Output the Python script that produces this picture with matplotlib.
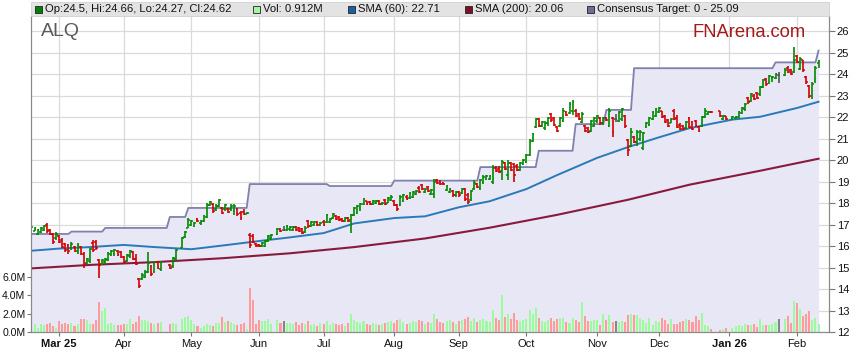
import matplotlib

matplotlib.use("Agg")
import matplotlib.pyplot as plt
import numpy as np
import pandas as pd
from matplotlib.patches import Rectangle

plt.rcParams["font.family"] = ["Liberation Sans", "DejaVu Sans"]

START = "2025-02-18"
END = "2026-02-11"
HOLIDAYS = ["2025-04-18", "2025-04-21", "2025-04-25", "2025-06-09",
            "2025-12-25", "2025-12-26", "2026-01-01", "2026-01-26"]

# daily OHLC, trading days only (one row per month)
opens = [
    16.65, 16.72, 16.55, 16.65, 16.75, 17.00, 16.75, 16.55, 16.35,
    16.45, 16.30, 16.10, 16.05, 15.85, 15.95, 15.75, 15.95, 15.65, 15.20, 15.30, 16.15, 16.20, 15.35, 15.15, 15.25, 15.35, 15.60, 15.65, 15.78, 15.70,
    15.50, 15.30, 15.55, 15.70, 15.40, 14.45, 14.45, 14.55, 14.80, 15.05, 14.80, 15.25, 14.95, 15.10, 15.05, 15.40, 15.90, 16.40, 16.85,
    17.00, 16.95, 17.25, 17.05, 17.15, 17.35, 17.90, 17.95, 17.70, 17.85, 17.75, 17.70, 17.70, 17.70, 17.65, 17.70, 17.55, 17.60, 17.50, 16.50, 16.45, 16.10,
    16.05, 16.00, 16.00, 16.25, 16.35, 16.55, 16.80, 16.75, 16.75, 16.80, 16.75, 16.90, 16.85, 16.80, 16.65, 17.15, 16.95, 17.00, 17.10, 17.00,
    17.10, 17.10, 17.10, 17.30, 17.40, 17.35, 17.25, 17.15, 17.30, 17.20, 17.45, 17.55, 17.75, 17.95, 18.10, 18.05, 17.95, 18.00, 18.10, 17.95, 18.15, 18.00, 18.15,
    18.10, 17.90, 17.90, 18.10, 18.30, 18.25, 18.30, 18.40, 18.70, 18.85, 18.50, 18.75, 18.40, 18.40, 19.05, 19.00, 18.95, 18.60, 18.50, 18.55, 18.35,
    18.50, 18.45, 18.65, 18.35, 18.15, 18.65, 18.90, 18.70, 19.00, 19.10, 19.10, 19.00, 19.65, 19.60, 19.50, 19.85, 19.30, 19.85, 19.80, 19.70, 19.55, 19.80,
    19.90, 20.25, 20.90, 21.55, 21.90, 21.60, 21.50, 21.70, 22.15, 21.95, 21.55, 21.60, 21.80, 22.25, 22.20, 22.30, 22.30, 22.15, 21.75, 21.60, 21.50, 21.35, 21.60,
    21.80, 21.95, 21.70, 21.95, 21.60, 21.95, 21.90, 21.80, 21.90, 22.05, 20.95, 20.65, 21.05, 20.85, 21.00, 20.55, 21.55, 21.65, 21.90, 22.05,
    22.25, 22.30, 22.05, 21.85, 21.70, 22.30, 21.95, 21.65, 21.60, 21.50, 21.95, 21.75, 21.80, 21.55, 21.60, 22.00, 22.15, 22.25, 22.30, 21.90, 22.05,
    21.90, 21.95, 22.00, 22.20, 22.35, 22.90, 22.75, 23.00, 23.10, 23.05, 23.40, 23.75, 23.60, 23.80, 23.80, 23.95, 23.95, 24.30, 24.20, 24.10,
    24.85, 24.25, 24.65, 23.85, 23.45, 23.00, 23.70, 24.50,
]
highs = [
    16.95, 16.90, 16.80, 16.90, 17.00, 17.05, 16.80, 16.60, 16.65,
    16.50, 16.35, 16.15, 16.10, 16.20, 16.00, 16.15, 16.00, 15.70, 15.45, 15.90, 16.30, 16.30, 15.40, 15.40, 15.45, 15.70, 15.80, 15.85, 15.80, 15.75,
    15.55, 15.65, 15.80, 15.75, 15.65, 14.50, 14.75, 14.90, 15.70, 15.10, 15.30, 15.30, 15.30, 15.15, 15.50, 15.85, 16.40, 16.70, 17.30,
    17.20, 17.10, 17.30, 17.20, 17.45, 18.00, 18.10, 18.00, 17.95, 18.20, 17.80, 17.95, 17.75, 17.95, 17.95, 17.75, 17.65, 17.70, 17.60, 16.60, 16.55, 16.15,
    16.10, 16.20, 16.30, 16.50, 16.55, 16.85, 16.85, 16.95, 17.00, 16.95, 16.95, 16.95, 16.90, 16.85, 16.95, 17.20, 17.15, 17.15, 17.15, 17.10,
    17.20, 17.50, 17.30, 17.55, 17.45, 17.40, 17.30, 17.35, 17.35, 17.50, 17.80, 17.90, 18.00, 18.25, 18.10, 18.10, 18.15, 18.15, 18.15, 18.05, 18.20, 18.30, 18.35,
    18.15, 17.95, 18.35, 18.40, 18.35, 18.50, 18.55, 18.60, 18.80, 18.90, 18.70, 18.80, 18.65, 19.10, 19.10, 19.05, 19.00, 18.85, 18.70, 18.60, 18.55,
    18.55, 18.70, 18.70, 18.45, 18.60, 19.05, 18.95, 19.10, 19.30, 19.30, 19.30, 19.75, 19.70, 19.70, 19.98, 19.90, 19.98, 19.90, 19.85, 19.80, 19.90, 20.05,
    20.30, 21.00, 21.25, 21.95, 21.95, 21.80, 21.80, 22.00, 22.20, 22.00, 21.60, 22.00, 22.40, 22.30, 22.70, 22.80, 22.35, 22.20, 22.25, 21.65, 21.55, 21.85, 22.00,
    22.10, 22.00, 22.00, 22.00, 22.40, 22.00, 22.15, 22.30, 22.40, 22.10, 21.00, 21.50, 21.10, 21.40, 21.40, 21.30, 21.75, 22.00, 22.30, 22.40,
    22.45, 22.30, 22.10, 21.90, 21.95, 22.35, 22.10, 21.70, 21.65, 21.80, 22.00, 21.80, 21.85, 21.60, 22.05, 22.40, 22.30, 22.30, 22.30, 22.10, 22.05,
    22.05, 22.05, 22.30, 22.45, 22.65, 22.95, 23.10, 23.05, 23.15, 23.45, 23.75, 23.80, 23.95, 23.90, 24.05, 24.10, 24.30, 24.35, 24.25, 25.25,
    24.90, 24.80, 24.65, 23.90, 23.50, 23.65, 24.35, 24.66,
]
lows = [
    16.60, 16.68, 16.50, 16.60, 16.70, 16.60, 16.50, 16.10, 16.30,
    16.15, 15.90, 15.70, 15.65, 15.80, 15.70, 15.65, 15.60, 15.00, 15.15, 15.20, 15.70, 15.80, 14.50, 15.10, 15.15, 15.30, 15.55, 15.55, 15.55, 15.45,
    15.20, 15.25, 15.45, 15.35, 15.10, 14.05, 14.40, 14.50, 14.75, 14.60, 14.75, 14.95, 14.85, 14.95, 15.00, 15.30, 15.90, 16.35, 16.85,
    16.95, 16.90, 17.10, 17.00, 17.10, 17.30, 17.85, 17.55, 17.65, 17.80, 17.50, 17.65, 17.55, 17.65, 17.45, 17.40, 17.20, 17.45, 17.50, 15.90, 16.15, 15.95,
    15.95, 15.95, 15.95, 16.20, 16.30, 16.50, 16.65, 16.70, 16.70, 16.70, 16.70, 16.70, 16.65, 16.55, 16.60, 16.85, 16.90, 16.95, 16.95, 16.95,
    16.95, 17.05, 17.05, 17.25, 17.20, 17.15, 17.10, 17.10, 17.10, 16.60, 17.40, 17.50, 17.65, 17.90, 17.90, 17.90, 17.90, 17.95, 17.90, 17.90, 17.90, 18.00, 18.10,
    17.85, 17.65, 17.85, 18.05, 18.15, 18.20, 18.25, 18.35, 18.45, 18.60, 18.45, 18.50, 18.35, 18.25, 18.90, 18.85, 18.85, 18.55, 18.45, 18.30, 18.30,
    18.30, 18.40, 18.10, 17.95, 18.10, 18.60, 18.70, 18.60, 18.90, 19.05, 19.05, 18.90, 19.45, 19.40, 19.05, 19.55, 19.05, 19.50, 19.00, 19.50, 19.50, 19.75,
    19.85, 20.20, 20.85, 21.50, 21.55, 21.55, 21.40, 21.60, 21.75, 21.60, 21.30, 21.55, 21.75, 22.05, 22.15, 22.10, 22.00, 21.85, 21.70, 21.30, 21.25, 21.30, 21.55,
    21.70, 21.65, 21.65, 21.80, 21.55, 21.05, 21.75, 21.75, 21.80, 21.50, 20.20, 20.60, 20.80, 20.65, 20.90, 20.45, 21.50, 21.60, 21.85, 22.00,
    22.20, 21.95, 21.70, 21.55, 21.70, 21.85, 21.50, 21.40, 21.40, 21.45, 21.50, 21.40, 21.55, 21.30, 21.55, 21.95, 22.10, 22.20, 22.00, 21.85, 21.85,
    21.85, 21.90, 21.95, 22.15, 22.30, 22.60, 22.70, 22.80, 22.85, 23.00, 23.35, 23.45, 23.55, 23.65, 23.75, 23.60, 23.90, 24.05, 23.95, 24.05,
    24.50, 24.20, 24.10, 23.55, 22.90, 22.85, 23.60, 24.27,
]
closes = [
    16.90, 16.85, 16.75, 16.85, 16.95, 16.70, 16.55, 16.20, 16.55,
    16.20, 15.95, 15.80, 15.75, 16.10, 15.75, 16.05, 15.65, 15.15, 15.40, 15.85, 15.80, 15.90, 15.10, 15.35, 15.40, 15.65, 15.75, 15.80, 15.60, 15.50,
    15.25, 15.60, 15.75, 15.40, 15.15, 14.15, 14.65, 14.80, 15.20, 14.70, 15.25, 15.00, 15.25, 15.00, 15.45, 15.80, 16.35, 16.65, 17.20,
    17.15, 17.05, 17.15, 17.15, 17.40, 17.90, 18.05, 17.65, 17.85, 18.15, 17.55, 17.90, 17.60, 17.85, 17.85, 17.50, 17.30, 17.50, 17.55, 16.05, 16.20, 16.00,
    15.98, 16.15, 16.25, 16.45, 16.50, 16.80, 16.70, 16.75, 16.95, 16.90, 16.90, 16.75, 16.70, 16.60, 16.85, 16.95, 17.10, 17.10, 17.00, 17.05,
    17.00, 17.45, 17.25, 17.50, 17.25, 17.20, 17.15, 17.30, 17.15, 17.45, 17.75, 17.85, 17.95, 18.20, 17.95, 17.95, 18.10, 18.10, 17.95, 18.00, 17.95, 18.25, 18.30,
    17.90, 17.70, 18.30, 18.35, 18.20, 18.45, 18.50, 18.55, 18.50, 18.65, 18.65, 18.55, 18.60, 19.00, 18.95, 18.90, 18.88, 18.80, 18.65, 18.35, 18.50,
    18.35, 18.65, 18.20, 18.05, 18.55, 18.95, 18.75, 19.05, 19.20, 19.25, 19.25, 19.65, 19.50, 19.45, 19.90, 19.60, 19.85, 19.55, 19.30, 19.55, 19.85, 20.00,
    20.25, 20.90, 21.20, 21.90, 21.60, 21.75, 21.70, 21.95, 21.85, 21.65, 21.35, 21.95, 22.30, 22.10, 22.60, 22.70, 22.05, 21.90, 22.15, 21.35, 21.30, 21.80, 21.95,
    22.05, 21.70, 21.95, 21.85, 22.30, 21.30, 21.90, 22.25, 22.35, 21.60, 20.45, 21.30, 20.85, 21.30, 21.30, 21.25, 21.70, 21.95, 22.25, 22.35,
    22.40, 22.00, 21.75, 21.60, 21.90, 21.90, 21.55, 21.45, 21.45, 21.75, 21.55, 21.45, 21.60, 21.35, 22.00, 22.30, 22.25, 22.22, 22.05, 22.05, 21.90,
    22.00, 22.00, 22.25, 22.40, 22.60, 22.70, 23.05, 22.85, 22.90, 23.40, 23.70, 23.55, 23.90, 23.85, 24.00, 23.95, 24.20, 24.10, 24.00, 24.65,
    24.55, 24.70, 24.20, 23.65, 23.00, 23.55, 24.30, 24.62,
]
# volume in millions of shares
volumes = [
    0.3, 0.85, 0.45, 0.85, 0.75, 0.85, 1.0, 0.6, 0.45,
    1.15, 0.85, 0.95, 0.85, 1.0, 0.6, 0.85, 1.4, 1.4, 1.3, 0.85, 0.85, 1.3, 3.2, 2.3, 2.6, 0.85, 0.95, 0.75, 0.75, 0.75,
    0.85, 0.85, 1.4, 0.85, 1.05, 1.7, 1.3, 1.3, 1.2, 0.95, 0.85, 0.95, 1.05, 0.85, 0.95, 0.85, 1.4, 1.6, 1.7,
    1.3, 0.85, 0.6, 0.45, 0.65, 0.85, 0.75, 0.6, 0.95, 0.95, 1.6, 1.1, 1.2, 1.05, 0.85, 0.75, 0.85, 1.0, 0.3, 4.8, 3.5, 0.85,
    1.3, 1.2, 1.2, 1.45, 0.85, 1.3, 1.0, 1.2, 0.95, 0.95, 0.9, 1.1, 0.8, 1.0, 0.9, 1.2, 0.8, 0.9, 0.7, 1.0,
    0.9, 1.2, 0.8, 1.0, 0.9, 0.8, 0.9, 0.7, 1.0, 1.9, 1.3, 1.1, 1.0, 1.2, 0.9, 0.8, 1.0, 0.9, 0.8, 0.9, 1.0, 1.1, 1.2,
    1.0, 1.3, 1.4, 1.1, 0.9, 1.0, 1.2, 1.1, 1.3, 1.2, 0.9, 1.1, 1.0, 2.0, 1.4, 1.1, 1.0, 1.2, 1.3, 1.1, 0.9,
    1.2, 1.3, 1.4, 1.6, 1.2, 1.5, 1.1, 1.3, 1.4, 1.2, 1.1, 2.4, 1.5, 1.3, 4.0, 1.6, 2.0, 1.4, 2.1, 1.3, 1.2, 1.3,
    1.4, 2.4, 2.0, 2.6, 1.5, 1.2, 1.1, 1.3, 1.5, 1.2, 1.4, 1.55, 1.55, 1.1, 1.0, 1.55, 1.35, 1.1, 3.3, 1.7, 1.15, 1.15, 1.3,
    1.35, 0.75, 1.9, 1.35, 1.8, 1.1, 1.15, 1.05, 1.15, 1.05, 1.8, 1.9, 1.8, 1.8, 1.55, 1.25, 1.0, 1.55, 0.8, 1.2,
    1.05, 1.55, 1.25, 0.85, 1.45, 0.85, 0.85, 1.05, 1.2, 1.4, 1.25, 1.05, 1.7, 1.25, 2.1, 0.75, 0.65, 0.3, 0.2, 0.3, 0.45,
    0.45, 0.6, 0.75, 0.65, 0.9, 0.75, 0.75, 0.85, 0.55, 1.45, 0.75, 0.75, 0.75, 0.85, 1.05, 1.4, 1.45, 1.7, 1.0, 3.4,
    3.1, 2.45, 1.7, 1.9, 2.25, 1.35, 1.55, 0.912,
]

sma60_dates = ["2025-02-18", "2025-03-03", "2025-03-17", "2025-04-01", "2025-04-15", "2025-05-01",
               "2025-05-15", "2025-06-02", "2025-06-16", "2025-07-01", "2025-07-15", "2025-08-01",
               "2025-08-15", "2025-09-01", "2025-09-15", "2025-10-01", "2025-10-15", "2025-11-03",
               "2025-11-17", "2025-12-01", "2025-12-15", "2026-01-02", "2026-01-15", "2026-02-02",
               "2026-02-11"]
sma60_values = [15.78, 15.88, 15.95, 16.05, 15.95, 15.85, 16.02, 16.23, 16.40, 16.60, 17.05, 17.30,
                17.38, 17.80, 18.08, 18.65, 19.30, 20.10, 20.60, 21.05, 21.48, 21.88, 22.01, 22.42,
                22.71]

sma200_dates = ["2025-02-18", "2025-03-17", "2025-04-15", "2025-05-15", "2025-06-16", "2025-07-15",
                "2025-08-15", "2025-09-15", "2025-10-15", "2025-11-17", "2025-12-15", "2026-01-15",
                "2026-02-11"]
sma200_values = [14.96, 15.12, 15.25, 15.43, 15.66, 15.95, 16.35, 16.85, 17.45, 18.15, 18.85, 19.50,
                 20.06]

target_dates = ["2025-02-18", "2025-03-07", "2025-03-24", "2025-04-22", "2025-04-30", "2025-05-28",
                "2025-07-03", "2025-08-01", "2025-09-10", "2025-10-07", "2025-10-23", "2025-11-06",
                "2025-11-19", "2026-01-22", "2026-02-11"]
target_values = [16.56, 16.67, 16.84, 17.35, 17.77, 18.88, 18.79, 19.04, 19.67, 20.43, 21.67, 22.33,
                 24.27, 24.54, 25.09]

month_ticks = ["2025-03-03", "2025-04-01", "2025-05-01", "2025-06-02", "2025-07-01", "2025-08-01",
               "2025-09-01", "2025-10-01", "2025-11-03", "2025-12-01", "2026-01-01", "2026-02-02"]
month_labels = ["Mar 25", "Apr", "May", "Jun", "Jul", "Aug", "Sep", "Oct", "Nov", "Dec", "Jan 26", "Feb"]

# ---------------------------------------------------------------------------
days = pd.bdate_range(START, END)
trade = days[~days.isin(pd.to_datetime(HOLIDAYS))]
assert len(trade) == len(opens) == len(highs) == len(lows) == len(closes) == len(volumes)
x = days.get_indexer(trade).astype(float)

o = np.array(opens)
h = np.array(highs)
lo = np.array(lows)
c = np.array(closes)
v = np.array(volumes) * 1e6

UP, DOWN, FLAT = "#008a00", "#d40000", "#555555"
bar_cols = np.where(c > o, UP, np.where(c < o, DOWN, FLAT))
vol_cols = np.where(c > o, "#9dfb9d", np.where(c < o, "#ff9b9b", "#858585"))

W, H = 859, 363
fig = plt.figure(figsize=(W / 100, H / 100), dpi=100, facecolor="white")
ax = fig.add_axes([31 / W, 31 / H, 798 / W, 316 / H])
ax_v = ax.twinx()

# price axis (right)
ax.set_xlim(-0.15, 259.4)
ax.set_ylim(12, 26 + 15 / 21.5)
ax.yaxis.tick_right()
ax.set_yticks(np.arange(12, 27, 1))
ax.set_axisbelow(True)
ax.grid(True, color="#dadada", lw=0.9)

tgt = pd.Series(target_values, index=pd.to_datetime(target_dates)).reindex(days).ffill()
xa = np.arange(len(days))
ax.fill_between(xa, tgt.values, 12, color="#e7e7f5", lw=0, zorder=1)
ax.plot(xa, tgt.values, color="#8080ae", lw=1.3, zorder=2)

ax.plot(days.get_indexer(pd.to_datetime(sma200_dates)), sma200_values, color="#8a1a3c", lw=1.5, zorder=3)
ax.plot(days.get_indexer(pd.to_datetime(sma60_dates)), sma60_values, color="#2a7ab8", lw=1.4, zorder=3)

ax.vlines(x, lo, h, colors=bar_cols, lw=1.2, zorder=4)
ax.hlines(o, x - 0.6, x, colors=bar_cols, lw=1.1, zorder=4)
ax.hlines(c, x, x + 0.6, colors=bar_cols, lw=1.1, zorder=4)

# volume axis (left)
ax_v.bar(x, v, width=0.66, color=vol_cols, lw=0, zorder=2)
ax_v.set_ylim(0, (332 - 16) / 9.22 * 1e6)
ax_v.yaxis.tick_left()
ax_v.set_yticks([0, 2e6, 4e6, 6e6])
ax_v.set_yticklabels(["0.0M", "2.0M", "4.0M", "6.0M"])

ax.set_xticks(days.get_indexer(pd.to_datetime(month_ticks)))
ax.set_xticklabels(month_labels)
for lab in ax.get_xticklabels():
    if " " in lab.get_text():
        lab.set_fontweight("bold")

for a in (ax, ax_v):
    a.tick_params(labelsize=8, length=4, width=0.8, color="#777777", pad=1.5, labelcolor="#111111")
    a.spines["top"].set_visible(False)
    for s in ("left", "right", "bottom"):
        a.spines[s].set_color("#8a8a8a")
ax.tick_params(axis="x", length=3, pad=2)
ax_v.tick_params(axis="y", labelsize=7.6, length=3, pad=1)

# legend band
fig.patches.append(Rectangle((31 / W, 1 - 16 / H), 798 / W, 14 / H, transform=fig.transFigure,
                             fc="#e3e3e3", ec="#d0d0d0", lw=0.6, zorder=5))
legend_items = [
    (35, "#008000", f"Op:{opens[-1]:g}, Hi:{highs[-1]:g}, Lo:{lows[-1]:g}, Cl:{closes[-1]:g}"),
    (253, "#a6f5a6", f"Vol: {volumes[-1]:.3f}M"),
    (348, "#1b5fa3", f"SMA (60): {sma60_values[-1]:.2f}"),
    (465, "#80102a", f"SMA (200): {sma200_values[-1]:.2f}"),
    (587, "#6e6e9c", f"Consensus Target: 0 - {target_values[-1]:.2f}"),
]
for px, col, txt in legend_items:
    fig.patches.append(Rectangle((px / W, 1 - 13 / H), 7 / W, 7 / H, transform=fig.transFigure,
                                 fc=col, ec="#222222", lw=0.6, zorder=6))
    fig.text((px + 10) / W, 1 - 9.5 / H, txt, fontsize=8.1, va="center", ha="left",
             color="#111111", zorder=7)

fig.text(41 / W, 1 - 32 / H, "ALQ", fontsize=14, color="#5a5a5a", va="center", ha="left")
fig.text(806 / W, 1 - 32.5 / H, "FNArena.com", fontsize=13.2, color="#a51a1a", va="center", ha="right")

fig.savefig("out.png", dpi=100, facecolor="white")
